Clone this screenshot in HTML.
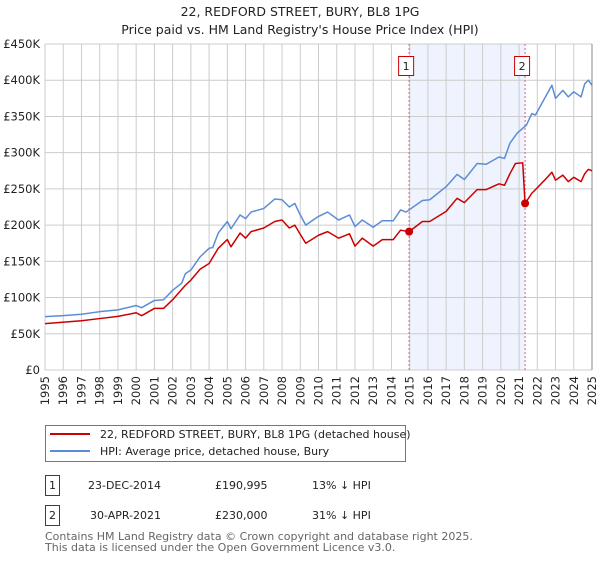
<!DOCTYPE html>
<html><head><meta charset="utf-8"><style>
body{margin:0;background:#fff;font-family:"DejaVu Sans","Liberation Sans",sans-serif;}
svg text{font-family:"DejaVu Sans","Liberation Sans",sans-serif;}
</style></head><body>
<svg id="chart" width="600" height="560" xmlns="http://www.w3.org/2000/svg">
<text x="300" y="16" text-anchor="middle" font-size="12.5" fill="#222">22, REDFORD STREET, BURY, BL8 1PG</text>
<text x="300" y="34" text-anchor="middle" font-size="12.5" fill="#222">Price paid vs. HM Land Registry's House Price Index (HPI)</text>
<g id="plot"></g>
<g>
<rect x="45.5" y="425.5" width="360" height="36" fill="#fff" stroke="#777"/>
<line x1="50" y1="434" x2="90" y2="434" stroke="#cc0000" stroke-width="2"/>
<text x="100" y="438" font-size="11" fill="#222">22, REDFORD STREET, BURY, BL8 1PG (detached house)</text>
<line x1="50" y1="451" x2="90" y2="451" stroke="#5b8dd6" stroke-width="2"/>
<text x="100" y="455" font-size="11" fill="#222">HPI: Average price, detached house, Bury</text>
</g>
<g font-size="11" fill="#222">
<rect x="45.5" y="475.5" width="14" height="20" fill="#fff" stroke="#cc0000"/>
<text x="52.5" y="489" text-anchor="middle">1</text>
<text x="88" y="489">23-DEC-2014</text>
<text x="215" y="489">£190,995</text>
<text x="312" y="489">13% ↓ HPI</text>
<rect x="45.5" y="505.5" width="14" height="20" fill="#fff" stroke="#cc0000"/>
<text x="52.5" y="519" text-anchor="middle">2</text>
<text x="90" y="519">30-APR-2021</text>
<text x="215" y="519">£230,000</text>
<text x="312" y="519">31% ↓ HPI</text>
</g>
<text x="45" y="540" font-size="11" fill="#666">Contains HM Land Registry data © Crown copyright and database right 2025.</text>
<text x="45" y="551" font-size="11" fill="#666">This data is licensed under the Open Government Licence v3.0.</text>
</svg>
<script>
const hpiYears=[1995,1996,1997,1998,1999,2000,2000.3,2001,2001.5,2002,2002.5,2002.7,2003,2003.5,2004,2004.2,2004.5,2005,2005.2,2005.7,2006,2006.3,2007,2007.6,2008,2008.4,2008.7,2008.96,2009.3,2010,2010.5,2011.1,2011.7,2012,2012.4,2013,2013.5,2014.1,2014.5,2014.8,2015.7,2016.1,2017,2017.6,2018,2018.7,2019.2,2019.9,2020.2,2020.5,2020.9,2021.4,2021.7,2021.9,2022.4,2022.8,2023,2023.4,2023.7,2024,2024.4,2024.6,2024.8,2025];
const hpiValues=[73600,75000,77000,80500,83000,89000,86000,96000,97000,110000,120000,133000,138000,156000,168000,169000,189000,205000,195000,214000,209000,218000,223000,236000,235000,225000,230000,216000,200000,212000,218000,207000,214000,198000,207000,197000,206000,206000,221000,218000,234000,235000,253000,270000,263000,285000,284000,294000,292000,313000,327000,338000,354000,352000,375000,393000,375000,386000,377000,384000,377000,395000,400000,393000];
const redYears=[1995,1997,1998,1999,2000,2000.3,2001,2001.5,2002,2002.7,2003,2003.5,2004,2004.5,2005,2005.2,2005.7,2006,2006.3,2007,2007.6,2008,2008.4,2008.7,2008.96,2009.3,2010,2010.5,2011.1,2011.7,2012,2012.4,2013,2013.5,2014.1,2014.5,2014.97,2015.7,2016.1,2017,2017.6,2018,2018.7,2019.2,2019.9,2020.2,2020.5,2020.8,2021.2,2021.33,2021.7,2021.9,2022.4,2022.8,2023,2023.4,2023.7,2024,2024.4,2024.6,2024.8,2025];
const redValues=[64000,68000,71000,74000,79000,75000,85000,85000,97000,117000,124000,139000,147000,168000,180000,170000,189000,182000,191000,196000,205000,207000,196000,200000,189000,175000,186000,191000,182000,188000,171000,182000,171000,180000,180000,193000,190995,205000,205000,219000,237000,231000,249000,249000,257000,255000,271000,285000,286000,230000,244000,249000,262000,273000,262000,269000,260000,266000,260000,271000,277000,275000];
const sales=[{n:"1",year:2014.97,value:190995},{n:"2",year:2021.33,value:230000}];
const yTicks=[0,50000,100000,150000,200000,250000,300000,350000,400000,450000];
const yTickLabels=["£0","£50K","£100K","£150K","£200K","£250K","£300K","£350K","£400K","£450K"];
const xTicks=[1995,1996,1997,1998,1999,2000,2001,2002,2003,2004,2005,2006,2007,2008,2009,2010,2011,2012,2013,2014,2015,2016,2017,2018,2019,2020,2021,2022,2023,2024,2025];

const X0=45,X1=592,Y0=370,Y1=44;
const xs=y=>X0+(y-1995)/30*(X1-X0);
const ys=v=>Y0-v/450000*(Y0-Y1);
const NS="http://www.w3.org/2000/svg";
const g=document.getElementById('plot');
function mk(t,a){const e=document.createElementNS(NS,t);for(const k in a)e.setAttribute(k,a[k]);g.appendChild(e);return e;}

const shade=mk('rect',{x:xs(sales[0].year),y:Y1,width:xs(sales[1].year)-xs(sales[0].year),height:Y0-Y1,fill:'#eef3fd'});



yTicks.forEach((v,i)=>{
  const l=mk('line',{x1:X0,x2:X1,y1:ys(v),y2:ys(v),stroke:'#cccccc','stroke-width':1});
  
  
  const t=mk('text',{x:40,y:ys(v)+4,'text-anchor':'end','font-size':'11.5',fill:'#222'});
  t.textContent=yTickLabels[i];
  
  
});
xTicks.forEach(yr=>{
  const x=xs(yr);
  const l=mk('line',{x1:x,x2:x,y1:Y1,y2:Y0,stroke:'#cccccc','stroke-width':1});
  
  
  const t=mk('text',{x:0,y:0,'text-anchor':'end','font-size':'11.5',fill:'#222',transform:`translate(${x+4},${Y0+6}) rotate(-90)`});
  t.textContent=String(yr);
  
  
});
const rb=mk('line',{x1:X1,x2:X1,y1:Y1,y2:Y0,stroke:'#888','stroke-width':1});



sales.forEach(s=>{
  const x=xs(s.year);
  const l=mk('line',{x1:x,x2:x,y1:Y1,y2:Y0,stroke:'#e06070','stroke-width':1,'stroke-dasharray':'2,2'});
  
  
  const r=mk('rect',{x:x-10.5,y:56.5,width:15,height:19,fill:'#fff',stroke:'#cc0000'});
  
  
  const t=mk('text',{x:x-3,y:70,'text-anchor':'middle','font-size':'11',fill:'#222'});
  t.textContent=s.n;
  
  
});

const hp=mk('polyline',{points:hpiYears.map((y,i)=>xs(y)+','+ys(hpiValues[i])).join(' '),fill:'none',stroke:'#5b8dd6','stroke-width':1.5,'stroke-linejoin':'round'});


const rp=mk('polyline',{points:redYears.map((y,i)=>xs(y)+','+ys(redValues[i])).join(' '),fill:'none',stroke:'#cc0000','stroke-width':1.5,'stroke-linejoin':'round'});


sales.forEach(s=>{
  const c=mk('circle',{cx:xs(s.year),cy:ys(s.value),r:4,fill:'#cc0000'});
  
  
});
</script>
</body></html>
